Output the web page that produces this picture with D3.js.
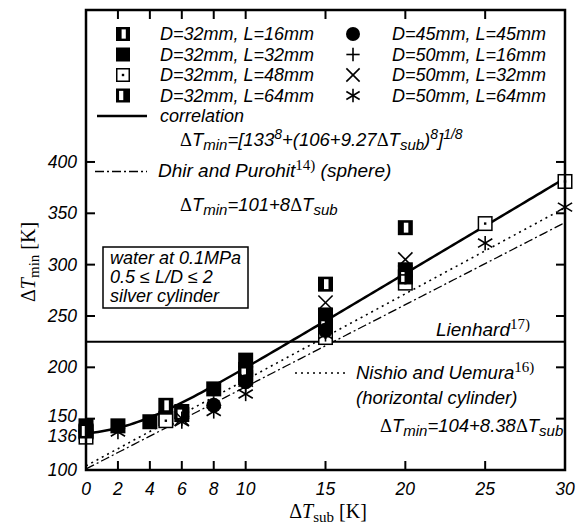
<!DOCTYPE html>
<html>
<head>
<meta charset="utf-8">
<script src="https://cdn.jsdelivr.net/npm/d3@7"></script>
<style>
  body { margin: 0; background: #fff; }
  text { font-family: "Liberation Sans", Arial, sans-serif; font-style: italic; font-size: 18px; fill: #000; }
  .serif { font-family: "Liberation Serif", "Times New Roman", serif; font-style: normal; }
  .tick { font-size: 17.5px; }
</style>
</head>
<body>
<div id="graph"></div>
<script>
// values
const xTicks = [0, 2, 4, 6, 8, 10, 15, 20, 25, 30]
const yTicks = [100, 150, 200, 250, 300, 350, 400]
const yExtraTick = 136

const seriesNames = ['D=32mm, L=16mm', 'D=32mm, L=32mm', 'D=32mm, L=48mm', 'D=32mm, L=64mm',
  'D=45mm, L=45mm', 'D=50mm, L=16mm', 'D=50mm, L=32mm', 'D=50mm, L=64mm']
const seriesSymbols = ['half', 'filled', 'dot', 'halfLeft', 'circle', 'plus', 'cross', 'star']

const d32l16 = [[0, 137], [5, 163], [10, 198], [15, 281], [20, 336]]
const d32l32 = [[0, 143], [2, 143], [4, 147], [5, 150], [6, 157], [8, 179], [10, 207], [15, 251], [20, 295]]
const d32l48 = [[0, 132], [5, 148], [10, 190], [15, 229], [20, 282], [25, 340], [30, 381]]
const d32l64 = [[0, 138], [6, 154], [10, 194], [15, 240], [20, 288]]
const d45l45 = [[8, 163], [10, 186], [15, 236]]
const d50l16 = [[6, 150], [10, 183], [15, 246], [20, 290]]
const d50l32 = [[6, 150], [10, 188], [15, 263], [20, 305]]
const d50l64 = [[2, 137], [6, 147], [8, 157], [10, 174], [15, 232], [25, 321], [30, 356]]
const seriesData = [d32l16, d32l32, d32l48, d32l64, d45l45, d50l16, d50l32, d50l64]

const lienhard = 225
const correlation = x => Math.pow(Math.pow(133, 8) + Math.pow(106 + 9.27 * x, 8), 1 / 8)
const dhir = x => 101 + 8 * x
const nishio = x => 104 + 8.38 * x

const width = 584
const height = 527
const x = d3.scaleLinear().domain([0, 30]).range([86, 565])
const y = d3.scaleLinear().domain([100, 548]).range([470, 10])

const svg = d3.select('#graph').append('svg')
  .attr('width', width)
  .attr('height', height)

const marker = (g, type, cx, cy, s) => {
  const h = s / 2
  const m = g.append('g').attr('transform', `translate(${cx},${cy})`)
  if (type === 'filled' || type === 'half' || type === 'halfLeft') {
    m.append('rect').attr('x', -h).attr('y', -h).attr('width', s).attr('height', s).attr('fill', '#000')
    if (type === 'half') {
      m.append('rect').attr('x', -0.1 * s).attr('y', -0.33 * s).attr('width', 0.3 * s).attr('height', 0.66 * s).attr('fill', '#fff')
    }
    if (type === 'halfLeft') {
      m.append('rect').attr('x', -0.28 * s).attr('y', -0.33 * s).attr('width', 0.3 * s).attr('height', 0.66 * s).attr('fill', '#fff')
    }
  } else if (type === 'dot') {
    m.append('rect').attr('x', -h + 0.75).attr('y', -h + 0.75).attr('width', s - 1.5).attr('height', s - 1.5)
      .attr('fill', '#fff').attr('stroke', '#000').attr('stroke-width', 1.5)
    m.append('rect').attr('x', -1.2).attr('y', -1.2).attr('width', 2.4).attr('height', 2.4).attr('fill', '#000')
  } else if (type === 'circle') {
    m.append('circle').attr('r', h).attr('fill', '#000')
  } else {
    const k = h * 0.95
    let segs = []
    if (type === 'plus') segs = [[0, -k, 0, k], [-k, 0, k, 0]]
    if (type === 'cross') segs = [[-k, -k, k, k], [-k, k, k, -k]]
    if (type === 'star') segs = [[0, -k, 0, k], [-k, -k * 0.6, k, k * 0.6], [-k, k * 0.6, k, -k * 0.6]]
    segs.forEach(d => m.append('line')
      .attr('x1', d[0]).attr('y1', d[1]).attr('x2', d[2]).attr('y2', d[3])
      .attr('stroke', '#000').attr('stroke-width', 1.6))
  }
}

const clip = svg.append('clipPath').attr('id', 'plot')
clip.append('rect').attr('x', 86).attr('y', 10).attr('width', 479).attr('height', 460)

// lines
const xs = d3.range(0, 30.01, 0.25)
const line = f => d3.line().x(d => x(d)).y(d => y(f(d)))(xs)
const lines = svg.append('g').attr('clip-path', 'url(#plot)')
lines.append('path').attr('d', line(dhir)).attr('fill', 'none').attr('stroke', '#000')
  .attr('stroke-width', 1.3).attr('stroke-dasharray', '9,3,2,3')
lines.append('path').attr('d', line(nishio)).attr('fill', 'none').attr('stroke', '#000')
  .attr('stroke-width', 1.6).attr('stroke-dasharray', '2,4')
lines.append('path').attr('d', line(correlation)).attr('fill', 'none').attr('stroke', '#000')
  .attr('stroke-width', 2.5)
lines.append('line').attr('x1', x(0)).attr('x2', x(30)).attr('y1', y(lienhard)).attr('y2', y(lienhard))
  .attr('stroke', '#000').attr('stroke-width', 2)

// data points
const pts = svg.append('g')
seriesData.forEach((data, i) => {
  data.forEach(d => marker(pts, seriesSymbols[i], x(d[0]), y(d[1]), 15))
})

// frame and ticks
const axes = svg.append('g').attr('stroke', '#000').attr('stroke-width', 2)
axes.append('rect').attr('x', 86).attr('y', 10).attr('width', 479).attr('height', 460).attr('fill', 'none').attr('stroke-width', 2.5)
xTicks.forEach(t => {
  axes.append('line').attr('x1', x(t)).attr('x2', x(t)).attr('y1', 470).attr('y2', 461)
  axes.append('line').attr('x1', x(t)).attr('x2', x(t)).attr('y1', 10).attr('y2', 19)
})
yTicks.forEach(t => {
  axes.append('line').attr('x1', 86).attr('x2', 95).attr('y1', y(t)).attr('y2', y(t))
  axes.append('line').attr('x1', 565).attr('x2', 556).attr('y1', y(t)).attr('y2', y(t))
})

svg.append('g').selectAll('text').data(xTicks).join('text').attr('class', 'tick')
  .attr('x', d => x(d)).attr('y', 495).attr('text-anchor', 'middle').text(d => d)
svg.append('g').selectAll('text').data(yTicks.filter(d => d !== 150)).join('text').attr('class', 'tick')
  .attr('x', 77).attr('y', d => y(d) + 6).attr('text-anchor', 'end').text(d => d)
// 150 and 136 sit close together: nudge them apart a little
svg.append('text').attr('class', 'tick').attr('x', 77).attr('y', y(150) + 3).attr('text-anchor', 'end').text(150)
svg.append('text').attr('class', 'tick').attr('x', 77).attr('y', y(yExtraTick) + 9).attr('text-anchor', 'end').text(yExtraTick)

// axis titles
const xt = svg.append('text').attr('class', 'serif').attr('x', 328).attr('y', 518)
  .attr('text-anchor', 'middle').style('font-size', '20px')
xt.append('tspan').text('Δ')
xt.append('tspan').style('font-style', 'italic').text('T')
xt.append('tspan').attr('dy', 4).style('font-size', '15px').text('sub')
xt.append('tspan').attr('dy', -4).text('  [K]')

const yt = svg.append('text').attr('class', 'serif')
  .attr('transform', 'translate(35,302) rotate(-90)').style('font-size', '20px')
yt.append('tspan').text('Δ')
yt.append('tspan').style('font-style', 'italic').text('T')
yt.append('tspan').attr('dy', 4).style('font-size', '15px').text('min')
yt.append('tspan').attr('dy', -4).text('   [K]')

// legend
seriesNames.forEach((name, i) => {
  const col = i < 4 ? 0 : 1
  const row = i % 4
  const cy = 34 + row * 20.5
  const mx = col === 0 ? 123 : 353
  marker(svg, seriesSymbols[i], mx, cy, 14)
  svg.append('text').attr('x', col === 0 ? 160 : 392).attr('y', cy + 6).text(name)
})
svg.append('line').attr('x1', 97).attr('x2', 147).attr('y1', 116).attr('y2', 116)
  .attr('stroke', '#000').attr('stroke-width', 2.5)
svg.append('text').attr('x', 160).attr('y', 122).text('correlation')

const formula = (px, py, parts) => {
  const t = svg.append('text').attr('x', px).attr('y', py)
  parts.forEach(p => {
    const s = t.append('tspan').text(p.t)
    if (p.serif) s.attr('class', 'serif')
    if (p.dy) s.attr('dy', p.dy)
    if (p.size) s.style('font-size', p.size)
  })
  return t
}
formula(180, 146, [
  { t: 'Δ', serif: true }, { t: 'T' }, { t: 'min', dy: 4, size: '15px' }, { t: '=[133', dy: -4 },
  { t: '8', dy: -7, size: '14px' }, { t: '+(106+9.27', dy: 7 }, { t: 'Δ', serif: true }, { t: 'T' },
  { t: 'sub', dy: 4, size: '15px' }, { t: ')', dy: -4 }, { t: '8', dy: -7, size: '14px' },
  { t: ']', dy: 7 }, { t: '1/8', dy: -7, size: '14px' }
]).style('font-size', '18.5px')

svg.append('line').attr('x1', 95).attr('x2', 147).attr('y1', 171.5).attr('y2', 171.5)
  .attr('stroke', '#000').attr('stroke-width', 1.3).attr('stroke-dasharray', '9,3,2,3')
formula(158, 177, [
  { t: 'Dhir and Purohit' }, { t: '14)', serif: true, dy: -7, size: '15px' }, { t: ' (sphere)', dy: 7 }
]).style('font-size', '19px')
formula(180, 211, [
  { t: 'Δ', serif: true }, { t: 'T' }, { t: 'min', dy: 4, size: '15px' }, { t: '=101+8', dy: -4 },
  { t: 'Δ', serif: true }, { t: 'T' }, { t: 'sub', dy: 4, size: '15px' }
]).style('font-size', '18.5px')

svg.append('rect').attr('x', 103).attr('y', 247).attr('width', 145).attr('height', 61)
  .attr('fill', '#fff').attr('stroke', '#000').attr('stroke-width', 1.5)
svg.append('text').attr('x', 110).attr('y', 264).text('water at 0.1MPa')
svg.append('text').attr('x', 110).attr('y', 283).text('0.5 ≤ L/D ≤ 2')
svg.append('text').attr('x', 110).attr('y', 302).text('silver cylinder')

formula(436, 336, [{ t: 'Lienhard' }, { t: '17)', serif: true, dy: -7, size: '15px' }]).style('font-size', '19px')

svg.append('line').attr('x1', 295).attr('x2', 345).attr('y1', 373).attr('y2', 373)
  .attr('stroke', '#000').attr('stroke-width', 1.6).attr('stroke-dasharray', '2,4')
formula(356, 379, [{ t: 'Nishio and Uemura' }, { t: '16)', serif: true, dy: -7, size: '15px' }]).style('font-size', '18.5px')
svg.append('text').attr('x', 356).attr('y', 404).style('font-size', '18.5px').text('(horizontal cylinder)')
formula(380, 432, [
  { t: 'Δ', serif: true }, { t: 'T' }, { t: 'min', dy: 4, size: '15px' }, { t: '=104+8.38', dy: -4 },
  { t: 'Δ', serif: true }, { t: 'T' }, { t: 'sub', dy: 4, size: '15px' }
]).style('font-size', '18.5px')
</script>
</body>
</html>
